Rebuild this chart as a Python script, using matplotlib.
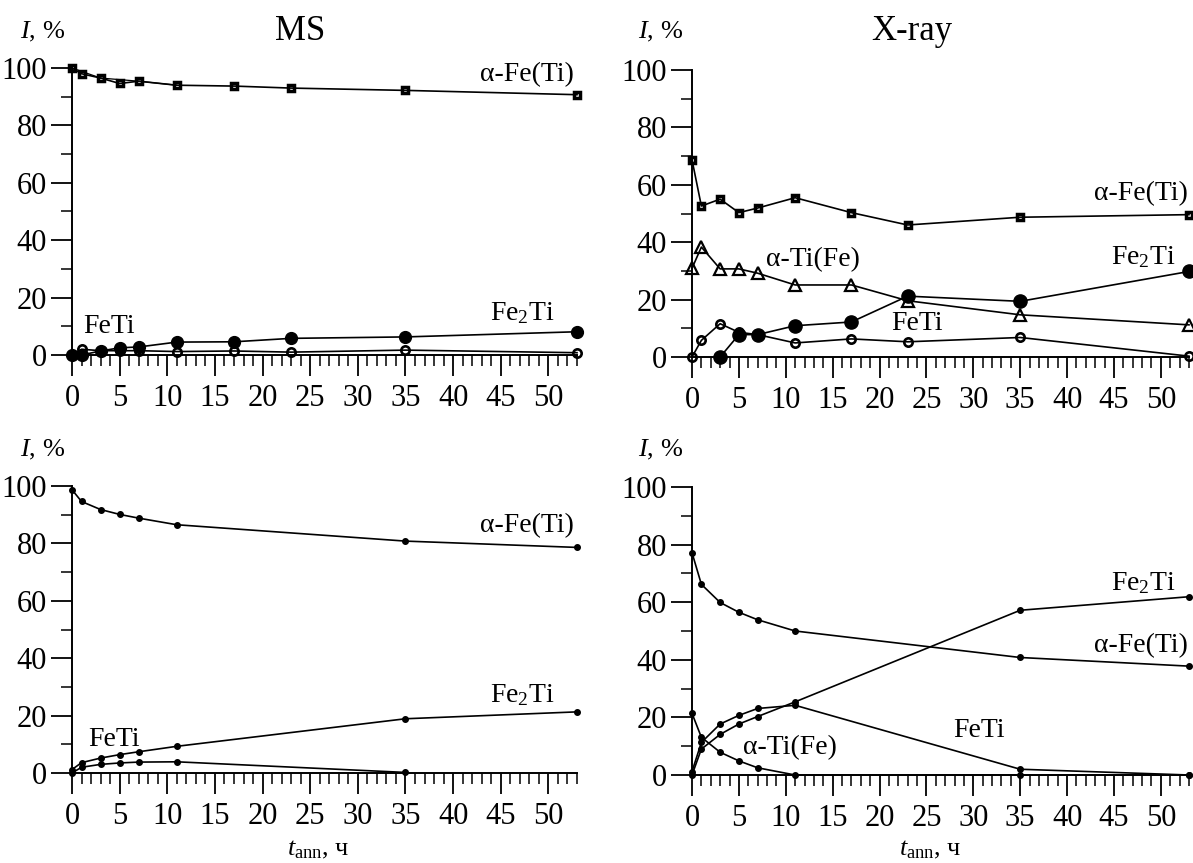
import matplotlib
matplotlib.use('Agg')
import matplotlib.pyplot as plt
from matplotlib.ticker import MultipleLocator

plt.rcParams['font.family'] = ['Liberation Serif', 'DejaVu Serif']
plt.rcParams['mathtext.fontset'] = 'custom'
plt.rcParams['mathtext.rm'] = 'Liberation Serif'
plt.rcParams['mathtext.it'] = 'Liberation Serif:italic'

# annealing times, h
t_top = [0, 1, 3, 5, 7, 11, 17, 23, 35, 53]
t_bot = [0, 1, 3, 5, 7, 11, 35, 53]

# MS, measured
ms_fe = [100, 98, 96.5, 94.6, 95.4, 94, 93.7, 93, 92.2, 90.7]
ms_fe2ti = [0, 0, 1.4, 2.5, 2.8, 4.5, 4.6, 5.8, 6.3, 8.1]
ms_feti = [0, 2.0, 1.5, 1.5, 1.5, 1.2, 1.4, 1.0, 1.7, 0.8]

# X-ray, measured
xr_fe = [68.7, 52.6, 55.0, 50.3, 51.9, 55.5, 50.3, 46.0, 48.7, 49.6]
xr_ti = [30.9, 38.3, 30.7, 30.7, 29.2, 25.1, 25.1, 19.6, 14.7, 11.2]
xr_fe2ti_t = [3, 5, 7, 11, 17, 23, 35, 53]
xr_fe2ti = [0, 7.8, 7.8, 10.9, 12.2, 21.2, 19.4, 29.8]
xr_feti = [0, 5.8, 11.6, 8.6, 7.8, 4.9, 6.3, 5.3, 6.8, 0.3]

# MS, model
msf_fe = [98.7, 94.6, 91.8, 90.1, 88.8, 86.5, 80.8, 78.6]
msf_fe2ti = [1.2, 3.6, 5.2, 6.4, 7.4, 9.3, 18.9, 21.3]
msf_feti_t = [0, 1, 3, 5, 7, 11, 35]
msf_feti = [0, 2.0, 3.0, 3.5, 3.8, 3.9, 0.2]

# X-ray, model
xrf_fe = [77.2, 66.2, 59.9, 56.5, 53.9, 50.0, 40.8, 37.8]
xrf_fe2ti = [0, 9.0, 14.1, 17.7, 20.3, 25.4, 57.2, 61.9]
xrf_feti = [1.2, 11.3, 17.7, 20.7, 23.1, 24.2, 2.0, 0]
xrf_ti = [21.4, 13.1, 7.9, 4.9, 2.5, 0, 0, 0]

W, H = 1193, 863
fig = plt.figure(figsize=(W / 100, H / 100), dpi=100)


def make_ax(x0, x1, y0, y100):
    ax = fig.add_axes([x0 / W, 1 - y0 / H, (x1 - x0) / W, (y0 - y100) / H])
    ax.set_xlim(0, 53)
    ax.set_ylim(0, 100)
    for s in ('top', 'right'):
        ax.spines[s].set_visible(False)
    for s in ('left', 'bottom'):
        ax.spines[s].set_linewidth(1.4)
    ax.xaxis.set_major_locator(MultipleLocator(5))
    ax.xaxis.set_minor_locator(MultipleLocator(1))
    ax.yaxis.set_major_locator(MultipleLocator(20))
    ax.yaxis.set_minor_locator(MultipleLocator(10))
    ax.tick_params(which='major', direction='out', length=15, width=1.3,
                   labelsize=22, color='black')
    ax.tick_params(which='minor', direction='out', length=8, width=1.1)
    ax.tick_params(axis='x', pad=6)
    ax.tick_params(axis='y', pad=3)
    ax.patch.set_alpha(0)
    return ax


def line(ax, x, y, lw=1.2, **kw):
    ax.plot(x, y, color='black', lw=lw, clip_on=False, **kw)


open_kw = dict(markerfacecolor='none', markeredgecolor='black')

# top left: MS
ax = make_ax(72, 577, 355, 68)
line(ax, t_top, ms_fe, marker='s', ms=5, mew=2.5, **open_kw)
line(ax, [t_top[i] for i in (0, 2, 4, 5)], [ms_fe[i] for i in (0, 2, 4, 5)], lw=0.9)
line(ax, t_top, ms_feti, marker='o', ms=6, mew=1.9, **open_kw)
line(ax, t_top, ms_fe2ti, marker='o', ms=8.5, markerfacecolor='black')
ax.text(52.7, 97.6, 'α-Fe(Ti)', fontsize=20, ha='right', va='center')
ax.text(1.2, 9.8, 'FeTi', fontsize=20, ha='left', va='center')
ax.text(50.7, 14.6, 'Fe$_2$Ti', fontsize=20, ha='right', va='center')

# top right: X-ray
ax = make_ax(692, 1189, 357, 70)
line(ax, t_top, xr_fe, marker='s', ms=5, mew=2.5, **open_kw)
line(ax, t_top, xr_ti, marker='^', ms=9, mew=1.6, **open_kw)
line(ax, t_top, xr_feti, marker='o', ms=6, mew=1.9, **open_kw)
line(ax, xr_fe2ti_t, xr_fe2ti, marker='o', ms=9.5, markerfacecolor='black')
ax.text(52.9, 57.0, 'α-Fe(Ti)', fontsize=20, ha='right', va='center')
ax.text(7.9, 33.8, 'α-Ti(Fe)', fontsize=20, ha='left', va='center')
ax.text(51.6, 34.8, 'Fe$_2$Ti', fontsize=20, ha='right', va='center')
ax.text(21.2, 11.8, 'FeTi', fontsize=20, ha='left', va='center')

# bottom left: MS model
ax = make_ax(72, 577, 773, 486)
line(ax, t_bot, msf_fe, marker='o', ms=4)
line(ax, t_bot, msf_fe2ti, marker='o', ms=4)
line(ax, msf_feti_t, msf_feti, marker='o', ms=4)
ax.text(52.7, 86.3, 'α-Fe(Ti)', fontsize=20, ha='right', va='center')
ax.text(50.7, 27.1, 'Fe$_2$Ti', fontsize=20, ha='right', va='center')
ax.text(1.65, 11.5, 'FeTi', fontsize=20, ha='left', va='center')

# bottom right: X-ray model
ax = make_ax(692, 1189, 775, 487)
line(ax, t_bot, xrf_fe, marker='o', ms=4)
line(ax, t_bot, xrf_fe2ti, marker='o', ms=4)
line(ax, t_bot, xrf_feti, marker='o', ms=4)
line(ax, t_bot, xrf_ti, marker='o', ms=4)
ax.text(51.6, 66.7, 'Fe$_2$Ti', fontsize=20, ha='right', va='center')
ax.text(52.9, 45.1, 'α-Fe(Ti)', fontsize=20, ha='right', va='center')
ax.text(27.9, 15.6, 'FeTi', fontsize=20, ha='left', va='center')
ax.text(5.4, 9.4, 'α-Ti(Fe)', fontsize=20, ha='left', va='center')

# panel titles and axis captions
fig.text(300 / W, 1 - 32 / H, 'MS', fontsize=25, ha='center', va='center')
fig.text(912 / W, 1 - 32 / H, 'X-ray', fontsize=25, ha='center', va='center')
for x, y in [(20, 32), (638, 32), (20, 450), (638, 450)]:
    fig.text(x / W, 1 - y / H, '$I$, %', fontsize=19, ha='left', va='center')
for x in (318, 930):
    fig.text(x / W, 1 - 850 / H, r'$t_{\mathrm{ann}}$, ч', fontsize=19,
             ha='center', va='center')

fig.savefig('out.png', dpi=100)
